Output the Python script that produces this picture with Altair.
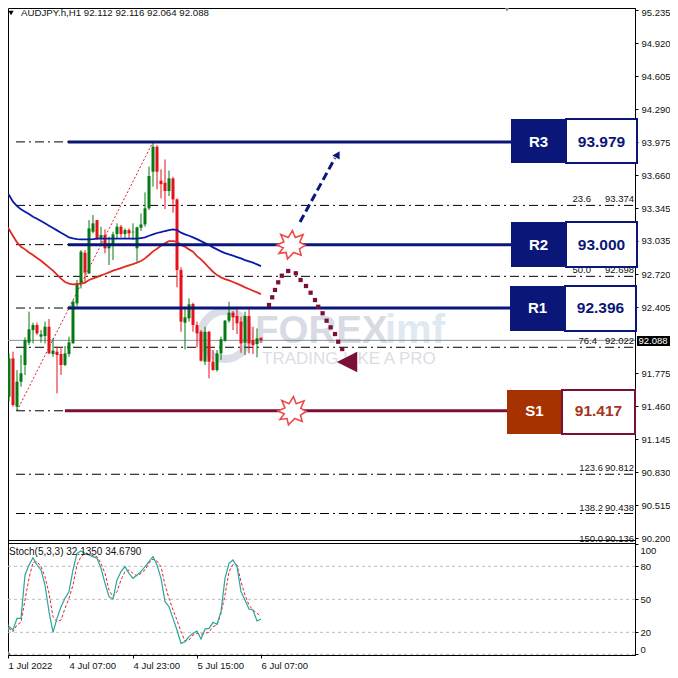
import altair as alt
import pandas as pd

# ---- candles (bar index is the position in these lists)
opens = [91.758,91.551,91.916,91.456,91.694,91.853,92.066,92.186,92.234,92.123,92.129,92.218,91.958,91.980,91.958,91.853,91.958,92.059,92.440,92.625,92.923,92.726,93.123,93.234,93.060,93.092,92.965,93.003,93.101,93.171,93.101,93.139,93.117,92.965,93.161,93.193,93.346,93.695,93.933,93.609,93.590,93.511,93.631,93.431,92.758,92.256,92.298,92.434,92.234,92.170,91.885,92.170,91.885,91.805,91.964,92.085,92.275,92.352,92.320,92.266,92.066,92.320,92.091,92.053,92.112]
highs = [91.805,91.964,91.980,91.805,91.948,92.117,92.361,92.256,92.256,92.186,92.266,92.291,92.107,92.028,92.012,92.034,92.123,92.472,92.663,92.949,92.949,93.234,93.282,93.234,93.171,93.146,93.076,93.123,93.203,93.187,93.155,93.155,93.203,93.171,93.298,93.498,93.743,93.979,93.949,93.717,93.812,93.705,93.647,93.441,92.784,92.409,92.488,92.447,92.266,92.186,92.218,92.177,91.996,91.996,92.123,92.282,92.456,92.367,92.409,92.313,92.361,92.393,92.218,92.202,92.116]
lows = [91.418,91.504,91.456,91.417,91.646,91.758,92.043,92.059,92.139,92.066,92.059,91.958,91.932,91.583,91.758,91.843,91.932,92.059,92.409,92.583,92.631,92.720,93.107,93.044,92.996,92.917,92.806,92.853,93.060,93.069,93.060,93.060,93.044,92.837,93.130,93.171,93.330,93.552,93.527,93.441,93.339,93.463,93.304,92.593,92.170,92.002,92.266,92.170,92.021,91.885,91.853,91.726,91.799,91.789,91.901,92.075,92.256,92.186,92.148,91.970,91.948,91.964,91.958,91.926,92.064]
closes = [91.424,91.916,91.472,91.694,91.774,92.091,92.193,92.234,92.155,92.145,92.218,91.964,91.990,91.948,91.853,91.964,92.069,92.456,92.625,92.933,92.733,93.155,93.203,93.060,93.092,92.965,93.012,93.098,93.171,93.101,93.139,93.107,93.123,93.165,93.193,93.346,93.654,93.933,93.695,93.577,93.511,93.631,93.431,92.758,92.266,92.307,92.431,92.234,92.155,91.894,92.170,91.885,91.805,91.964,92.098,92.275,92.352,92.307,92.250,92.059,92.320,92.059,92.043,92.107,92.088]

ma_blue = [93.489,93.473,93.409,93.368,93.336,93.314,93.292,93.266,93.247,93.225,93.203,93.180,93.158,93.136,93.114,93.092,93.069,93.060,93.053,93.050,93.050,93.050,93.053,93.057,93.057,93.057,93.057,93.057,93.057,93.057,93.057,93.057,93.057,93.057,93.063,93.069,93.085,93.098,93.111,93.120,93.130,93.139,93.146,93.139,93.114,93.098,93.085,93.069,93.053,93.034,93.015,92.996,92.974,92.955,92.936,92.920,92.907,92.895,92.882,92.869,92.853,92.841,92.828,92.812,92.796]
ma_red = [93.187,93.149,93.082,93.022,92.980,92.955,92.926,92.901,92.872,92.847,92.815,92.783,92.752,92.714,92.676,92.644,92.628,92.622,92.625,92.628,92.637,92.663,92.679,92.691,92.707,92.720,92.736,92.752,92.764,92.777,92.790,92.803,92.815,92.828,92.844,92.869,92.901,92.936,92.961,92.990,93.012,93.034,93.034,93.028,92.996,92.980,92.955,92.933,92.891,92.860,92.822,92.780,92.742,92.710,92.688,92.672,92.660,92.644,92.628,92.612,92.593,92.577,92.561,92.545,92.529]

stoch_main = [11.5,25.2,22.1,32.7,32.7,72.1,81.2,87.9,81.2,76.7,63.0,38.8,20.0,32.7,43.3,50.9,57.0,76.7,91.8,93.9,91.8,90.3,88.8,87.3,78.2,64.5,52.4,50.3,67.6,75.2,79.7,73.6,69.1,72.1,75.2,79.7,84.2,88.8,81.2,69.1,47.9,43.3,32.7,22.1,10.0,11.5,16.1,19.1,21.2,13.9,23.0,23.6,29.1,27.3,38.8,69.1,82.7,85.8,79.7,57.0,49.4,41.2,40.3,30.3,32.1]
stoch_signal = [37.3,23.6,20.6,26.7,29.1,49.4,69.1,83.6,84.2,79.7,70.6,55.5,34.2,29.7,31.2,41.8,50.9,63.0,81.2,88.8,91.8,90.9,89.7,88.8,82.7,73.6,58.5,52.4,57.0,67.6,75.2,76.7,73.6,71.2,73.6,76.7,82.7,86.7,84.8,79.7,63.0,50.9,40.3,31.2,20.6,12.1,13.0,17.6,19.1,18.2,19.1,20.0,25.2,26.7,37.3,53.9,75.2,81.8,81.2,66.1,53.9,44.8,40.3,37.3,34.7]

# ---- levels and annotations
fib_prices = [93.979,93.374,93.000,92.698,92.396,92.022,91.417,90.812,90.438]
fib_labels = [("23.6",146.5,93.374),("50.0",146.5,92.698),("76.4",148,92.022),("123.6",149.5,90.812),("138.2",149.5,90.438),("150.0",149.5,90.136)]
fib_values = [("93.374",93.374),("92.698",92.698),("92.022",92.022),("90.812",90.812),("90.438",90.438),("90.136",90.136)]
y_ticks = [95.235,94.920,94.605,94.290,93.975,93.660,93.345,93.035,92.720,92.405,91.775,91.460,91.145,90.830,90.515,90.200]
levels = [("R3",93.979,126.5,"93.979",94.197,93.778,140.25,158.0,"res"),
          ("R2",93.000,126.5,"93.000",93.216,92.787,140.25,158.0,"res"),
          ("R1",92.396,126.25,"92.396",92.606,92.177,140.0,157.75,"res"),
          ("S1",91.417,125.5,"91.417",91.615,91.195,139.25,157.5,"sup")]
dot_i = [66,66.8,67.5,68.3,69.2,70.8,72.7,73.9,75.25,76.4,77.5,78.3,79.4,80.4,81.4,82.5,83.3,84.3]
dot_p = [92.425,92.498,92.568,92.641,92.704,92.749,92.727,92.663,92.606,92.542,92.472,92.408,92.346,92.275,92.212,92.148,92.075,92.005]
x_ticks = [0.75,16,32,48,64]
x_labels = ["1 Jul 2022","4 Jul 07:00","4 Jul 23:00","5 Jul 15:00","6 Jul 07:00"]

NAVY = "#0a1778"
MAROON = "#7a1035"
FONT = "Liberation Sans"
GREEN, RED = "#067a12", "#e4111a"

xs = alt.Scale(domain=[0.75,157.5], range=[0,627], nice=False, zero=False)
ys = alt.Scale(domain=[90.176,95.255], range=[533,0], nice=False, zero=False)
ss = alt.Scale(domain=[-0.6,101.2], range=[647,535], nice=False, zero=False)

xaxis = alt.Axis(orient="bottom", values=x_ticks, title=None, grid=False, tickSize=3, labelAlign="left", labelPadding=2,
                 labelFont=FONT, labelFontSize=9.5, labelColor="#111", tickColor="#000", domainColor="#000",
                 labelOverlap=False, labelFlush=False,
                 labelExpr="{0.75:'%s',16:'%s',32:'%s',48:'%s',64:'%s'}[datum.value]" % tuple(x_labels))
yaxis = alt.Axis(orient="right", values=y_ticks, format=".3f", title=None, grid=False, tickSize=3, labelPadding=3,
                 labelFont=FONT, labelFontSize=9.5, labelColor="#111", tickColor="#000", domainColor="#000", labelOverlap=False,
                 labelOffset={"expr":"datum.value>95.2 ? 2 : 0"})
saxis = alt.Axis(orient="right", values=[0,20,50,80,100], title=None, grid=False, tickSize=3, labelPadding=2, labelFlush=False,
                 labelFont=FONT, labelFontSize=9.5, labelColor="#111", tickColor="#000", domainColor="#000", labelOverlap=False,
                 labelOffset={"expr":"datum.value==100 ? 6 : datum.value==0 ? -5 : 0"})

def XF(f="i"): return alt.X(f+":Q", scale=xs, axis=xaxis)
def YF(f="p"): return alt.Y(f+":Q", scale=ys, axis=yaxis)
def SF(f="v"): return alt.Y(f+":Q", scale=ss, axis=saxis)
X, Y, YS = XF(), YF(), SF()

n = len(opens)
candles = pd.DataFrame({"i":range(n),"o":opens,"h":highs,"l":lows,"c":closes})
up = candles[candles.c >= candles.o]
down = candles[candles.c < candles.o]

def rows(**k): return pd.DataFrame(k)
def one(i,p,**k):
    return pd.DataFrame({"i":[i],"p":[p],**{a:[b] for a,b in k.items()}})
def txt(df, text, **mk):
    return alt.Chart(df).mark_text(**mk).encode(x=X, y=Y, text=alt.Text(text+":N"))

# watermark
wm = [
  alt.Chart(one(55,92.139)).mark_point(shape="circle", size=2300, strokeWidth=8, color="#dcdee7", opacity=1).encode(x=X,y=Y),
  txt(one(62.5,92.177,t="FOREX"),"t",font=FONT,fontWeight="bold",fontSize=38.5,align="left",baseline="middle",color="#d9dbe4"),
  txt(one(95,92.177,t="imf"),"t",font=FONT,fontWeight="bold",fontSize=40,align="left",baseline="middle",color="#dfe9f1"),
  txt(one(64.25,91.915,t="TRADING LIKE A PRO"),"t",font=FONT,fontSize=17,align="left",baseline="middle",color="#dcdde4"),
]

# fib lines, current price
fib_df = rows(i=[2.75]*len(fib_prices), i2=[157.5]*len(fib_prices), p=fib_prices)
fib = alt.Chart(fib_df).mark_rule(color="#000", strokeWidth=1, strokeDash=[9,4,2,4]).encode(x=X, x2="i2:Q", y=Y)
fl = pd.DataFrame(fib_labels, columns=["t","i","p"])
fv = pd.DataFrame(fib_values, columns=["t","p"]); fv["i"]=157.25
fib_t1 = txt(fl,"t",font=FONT,fontSize=9.5,align="right",baseline="bottom",dy=-1,color="#111")
fib_t2 = txt(fv,"t",font=FONT,fontSize=9.5,align="right",baseline="bottom",dy=-1,color="#111")
cur = alt.Chart(rows(i=[0.75],i2=[157.5],p=[92.088])).mark_rule(color="#86929a", strokeWidth=1).encode(x=X,x2="i2:Q",y=Y)
diag = alt.Chart(rows(i=[3,37],p=[91.417,93.979])).mark_line(color="#d8202a", strokeWidth=1, strokeDash=[2,2]).encode(x=X,y=Y)

# candles
cs = []
for df, colr in ((up, GREEN), (down, RED)):
    cs.append(alt.Chart(df).mark_rule(strokeWidth=1, clip=True, color=colr).encode(x=X, y=YF("h"), y2="l:Q"))
    cs.append(alt.Chart(df).mark_rule(strokeWidth=3, clip=True, color=colr).encode(x=X, y=YF("o"), y2="c:Q"))

ma1 = alt.Chart(rows(i=list(range(n)),p=ma_blue)).mark_line(color="#0a1aa8",strokeWidth=1.8,clip=True).encode(x=X,y=Y)
ma2 = alt.Chart(rows(i=list(range(n)),p=ma_red)).mark_line(color="#e02a22",strokeWidth=1.8,clip=True).encode(x=X,y=Y)

# horizontal levels and boxes
lv = pd.DataFrame(levels, columns=["t","p","i2","val","top","bot","split","right","kind"])
lv["i"] = [15.75,15.75,15.75,15.0]
lv["cl"] = (lv["i2"]+lv["split"])/2
lv["cr"] = (lv["split"]+lv["right"])/2
bx = []
for kind, line_c, fill_c, text_c in (("res",NAVY,NAVY,NAVY),("sup",MAROON,"#a63200","#a8321a")):
    d = lv[lv.kind==kind]
    bx += [
      alt.Chart(d).mark_rule(strokeWidth=3,color=line_c).encode(x=X,x2="i2:Q",y=Y),
      alt.Chart(d).mark_rect(color=fill_c).encode(x=XF("i2"),x2="split:Q",y=YF("top"),y2="bot:Q"),
      alt.Chart(d).mark_rect(fill="white",stroke=line_c,strokeWidth=2).encode(x=XF("split"),x2="right:Q",y=YF("top"),y2="bot:Q"),
      alt.Chart(d).mark_text(font=FONT,fontWeight="bold",fontSize=15,color="white").encode(x=XF("cl"),y=Y,text="t:N"),
      alt.Chart(d).mark_text(font=FONT,fontWeight="bold",fontSize=15.5,color=text_c).encode(x=XF("cr"),y=Y,text="val:N"),
    ]

# explosions
STAR = "M-1,0.02 L-0.5,-0.2 L-0.72,-0.72 L-0.2,-0.5 L0.1,-1 L0.3,-0.5 L0.85,-0.7 L0.62,-0.18 L1,0.05 L0.6,0.3 L0.72,0.75 L0.2,0.55 L-0.25,1 L-0.35,0.55 L-0.85,0.62 L-0.55,0.22 Z"
stars = alt.Chart(rows(i=[71.5,71.75],p=[93.0,91.417])).mark_point(shape=STAR,size=800,filled=True,fill="white",stroke="#ee4a4a",strokeWidth=1.6,opacity=1).encode(x=X,y=Y)

# arrows
arrow = alt.Chart(rows(i=[73.75,82.5],p=[93.216,93.825])).mark_line(color=NAVY,strokeWidth=3,strokeDash=[8,4]).encode(x=X,y=Y)
ahead = alt.Chart(one(83.2,93.86)).mark_point(shape="triangle-up",angle=30,size=70,filled=True,color=NAVY,opacity=1).encode(x=X,y=Y)
dots = alt.Chart(rows(i=dot_i,p=dot_p)).mark_point(shape="square",size=18,filled=True,color=MAROON,opacity=1).encode(x=X,y=Y)
dhead = alt.Chart(one(85.5,91.881)).mark_point(shape="M-1,0 L1,-1 L1,1 Z",size=420,filled=True,color=MAROON,opacity=1).encode(x=X,y=Y)

# tag, header, markers
tag_box = alt.Chart(rows(i=[158],i2=[166.25],p=[92.129],p2=[92.034])).mark_rect(color="#000").encode(x=X,x2="i2:Q",y=Y,y2="p2:Q")
tag_txt = txt(one(162,92.081,t="92.088"),"t",font=FONT,fontSize=9.5,color="white",baseline="middle")
title = txt(one(4,95.212,t="AUDJPY.h,H1  92.112 92.116 92.064 92.088"),"t",font=FONT,fontSize=9.7,align="left",baseline="middle",color="#111")
htri = alt.Chart(one(1.5,95.207)).mark_point(shape="triangle-down",size=28,filled=True,color="#000",opacity=1).encode(x=X,y=Y)
top_m = alt.Chart(one(125.5,95.25)).mark_point(shape="triangle-down",size=50,filled=True,color="#7c8a96",opacity=1).encode(x=X,y=Y)
bottom_line = alt.Chart(rows(i=[0.75],i2=[157.5],p=[90.181])).mark_rule(color="#000",strokeWidth=1).encode(x=X,x2="i2:Q",y=Y)

main = alt.layer(*wm,fib,cur,fib_t1,fib_t2,diag,*cs,ma1,ma2,*bx,stars,arrow,ahead,dots,dhead,
                 bottom_line,tag_box,tag_txt,title,htri,top_m)

# stochastic panel
s_top = alt.Chart(rows(i=[0.75],i2=[157.5],v=[100.75])).mark_rule(color="#000",strokeWidth=1).encode(x=X,x2="i2:Q",y=YS)
s_lev = alt.Chart(rows(i=[0.75]*4,i2=[157.5]*4,v=[80,50,20,0])).mark_rule(color="#bdbdbd",strokeWidth=1,strokeDash=[3,3]).encode(x=X,x2="i2:Q",y=YS)
s_sig = alt.Chart(rows(i=list(range(n)),v=stoch_signal)).mark_line(color="#e0262e",strokeWidth=1,strokeDash=[3,2],clip=True).encode(x=X,y=YS)
s_main = alt.Chart(rows(i=list(range(n)),v=stoch_main)).mark_line(color="#2aa59d",strokeWidth=1.2,clip=True).encode(x=X,y=YS)
s_title = alt.Chart(rows(i=[1],v=[93],t=["Stoch(5,3,3) 32.1350 34.6790"])).mark_text(font=FONT,fontSize=10,align="left",baseline="middle",color="#111").encode(x=X,y=YS,text="t:N")
s_corner = alt.Chart(rows(i=[0.75,1.4],v=[3.0,0.0])).mark_area(color="#808080",clip=True).encode(x=X,y=YS,y2=alt.datum(-0.6))
stoch = alt.layer(s_lev,s_top,s_corner,s_sig,s_main,s_title)

chart = alt.layer(main, stoch).resolve_scale(y="independent").properties(
    width=627, height=647,
    padding={"left":0,"top":0,"right":35,"bottom":15},
    autosize=alt.AutoSizeParams(type="none"),
    background="white",
).configure_view(stroke="#000", strokeWidth=1)

chart.save("out.html", embed_options={"renderer":"svg","actions":False})
